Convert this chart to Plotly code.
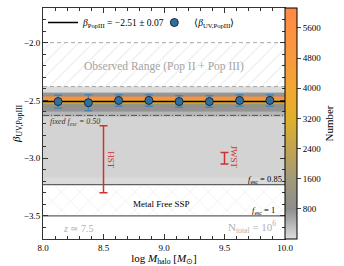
import plotly.graph_objects as go

# ---------------- data ----------------
halo_mass_bins = [8.125, 8.375, 8.625, 8.875, 9.125, 9.375, 9.625, 9.875]
beta_mean = [-2.51, -2.52, -2.50, -2.50, -2.51, -2.51, -2.50, -2.50]
beta_err = [0.055, 0.07, 0.05, 0.05, 0.05, 0.05, 0.05, 0.05]

beta_popIII = -2.51
beta_popIII_err = 0.07

# density of the simulated sample (hexbin counts) as a function of beta
density_beta_edges = [-2.38, -2.43, -2.45, -2.47, -2.49, -2.53, -2.56, -2.60, -2.64, -3.17, -3.23]
density_counts = [25, 700, 1100, 5700, 3500, 1100, 750, 400, 110, 40]
density_x_edges = [8.0, 10.0]

observed_range = [-2.38, -2.0]
metal_free_range = [-3.5, -3.23]
fixed_fesc_050 = -2.63

hst_point = {"x": 8.5, "y": -3.01, "err": 0.29}
jwst_point = {"x": 9.5, "y": -3.00, "err": 0.05}

cbar_ticks = [800, 1600, 2400, 3200, 4000, 4800, 5600]

FONT = "Liberation Serif"

fig = go.Figure()

# hexbin-like density
fig.add_trace(go.Heatmap(
    x=density_x_edges, y=density_beta_edges,
    z=[[c] for c in density_counts],
    zmin=0, zmax=6130,
    colorscale=[[0.0, "#dedede"], [0.13, "#8e8e8e"], [0.26, "#a09a7a"],
                [0.39, "#c2a450"], [0.52, "#dfb12a"], [0.65, "#f1a832"],
                [0.78, "#f89a3e"], [1.0, "#ff8a45"]],
    showscale=True, hoverinfo="skip",
    colorbar=dict(
        x=1.0, xanchor="left", xpad=0, y=0.5, yanchor="middle", len=1.0,
        ypad=0, thickness=12, outlinewidth=1, outlinecolor="black",
        tickvals=cbar_ticks, ticks="outside", ticklen=4, tickcolor="#444",
        tickfont=dict(family=FONT, size=9, color="black"),
        title=dict(text="Number", side="right",
                   font=dict(family=FONT, size=11, color="black")),
    ),
    showlegend=False,
))

# observed range hatched band
fig.add_trace(go.Scatter(
    x=[8, 10, 10, 8, 8],
    y=[observed_range[0], observed_range[0], observed_range[1], observed_range[1], observed_range[0]],
    fill="toself", mode="lines", line=dict(width=0),
    fillcolor="rgba(0,0,0,0)",
    fillpattern=dict(shape="/", fgcolor="#d4d4d4", size=10, solidity=0.1, bgcolor="rgba(255,255,255,0)"),
    showlegend=False, hoverinfo="skip"))

# metal free hatched band
fig.add_trace(go.Scatter(
    x=[8, 10, 10, 8, 8],
    y=[metal_free_range[0], metal_free_range[0], metal_free_range[1], metal_free_range[1], metal_free_range[0]],
    fill="toself", mode="lines", line=dict(width=0),
    fillcolor="rgba(0,0,0,0)",
    fillpattern=dict(shape="x", fgcolor="#d0d0d0", size=13, solidity=0.08, bgcolor="rgba(255,255,255,0)"),
    showlegend=False, hoverinfo="skip"))

# reference lines
for yv in observed_range:
    fig.add_trace(go.Scatter(x=[8, 10], y=[yv, yv], mode="lines",
                             line=dict(color="#a8a8a8", width=1, dash="4px,3px"),
                             showlegend=False, hoverinfo="skip"))
fig.add_trace(go.Scatter(x=[8, 10], y=[fixed_fesc_050] * 2, mode="lines",
                         line=dict(color="#555555", width=1, dash="6px,2px,1px,2px"),
                         showlegend=False, hoverinfo="skip"))
for yv in [metal_free_range[1], metal_free_range[0]]:
    fig.add_trace(go.Scatter(x=[8, 10], y=[yv, yv], mode="lines",
                             line=dict(color="#606060", width=1.2),
                             showlegend=False, hoverinfo="skip"))

# beta PopIII line
fig.add_trace(go.Scatter(
    x=[8, 10], y=[beta_popIII, beta_popIII], mode="lines",
    line=dict(color="black", width=1.5), legend="legend",
    name="<i>β</i><sub>PopIII</sub> = −2.51 ± 0.07"))

# mean points
fig.add_trace(go.Scatter(
    x=halo_mass_bins, y=beta_mean, mode="markers",
    marker=dict(size=8, color="#2f6f9e", line=dict(color="#1a2a3a", width=1)),
    error_y=dict(type="data", array=beta_err, color="#4a85b5", thickness=1.5, width=4),
    legend="legend2",
    name="⟨<i>β</i><sub>UV,PopIII</sub>⟩"))

# HST / JWST error bars
for pt in [hst_point, jwst_point]:
    fig.add_trace(go.Scatter(
        x=[pt["x"]], y=[pt["y"]], mode="markers",
        marker=dict(size=1, color="rgba(0,0,0,0)"),
        error_y=dict(type="data", array=[pt["err"]], color="#cc3333", thickness=1.5, width=4),
        showlegend=False, hoverinfo="skip"))

ann = []
def add_text(x, y, text, size, color="black", xanchor="center", angle=0):
    ann.append(dict(x=x, y=y, xref="x", yref="y", text=text, showarrow=False,
                    xanchor=xanchor, yanchor="middle", textangle=angle,
                    font=dict(family=FONT, size=size, color=color)))

add_text(9.0, -2.21, "Observed Range (Pop II + Pop III)", 11.5, "#a4a4a4")
add_text(8.04, -2.69, "<i>fixed f</i><sub><i>esc</i></sub><i> = 0.50</i>", 8, "#333333", xanchor="left")
add_text(8.98, -3.40, "Metal Free SSP", 9)
add_text(9.99, -3.185, "<i>f</i><sub>esc</sub> = 0.85", 8.5, xanchor="right")
add_text(9.93, -3.455, "<i>f</i><sub>esc</sub> = 1", 8.5, xanchor="right")
add_text(8.15, -3.61, "<i>z</i> ≃ 7.5", 10, "#b0b0b0", xanchor="left")
add_text(9.51, -3.60, "N<sub>total</sub> = 10<sup>6</sup>", 11, "#b0b0b0", xanchor="left")
add_text(8.555, -3.02, "HST", 9, "#cc3333", angle=90)
add_text(9.575, -2.99, "JWST", 9, "#cc3333", angle=90)

axis_common = dict(
    showgrid=False, zeroline=False, ticks="inside", mirror="allticks",
    showline=True, linecolor="#333333", linewidth=1, tickcolor="#333333",
    ticklen=5, tickfont=dict(family=FONT, size=9, color="black"),
    automargin=False,
)

legend_common = dict(orientation="h", y=1.0, yanchor="top", xanchor="left",
                     bgcolor="rgba(0,0,0,0)", font=dict(family=FONT, size=9.5),
                     itemwidth=30)

fig.update_layout(
    width=344, height=266,
    margin=dict(l=43, r=59, t=8, b=27, autoexpand=False),
    paper_bgcolor="white", plot_bgcolor="white",
    font=dict(family=FONT, size=10, color="black"),
    annotations=ann,
    showlegend=True,
    legend=dict(x=0.0, **legend_common),
    legend2=dict(x=0.46, **legend_common),
    xaxis=dict(range=[8, 10], tickvals=[8.0, 8.5, 9.0, 9.5, 10.0], tickformat=".1f",
               minor=dict(dtick=0.1, ticklen=3, ticks="inside", tickcolor="#333333"),
               title=dict(text="log <i>M</i><sub>halo</sub> [<i>M</i><sub>⊙</sub>]",
                          font=dict(family=FONT, size=11), standoff=2),
               **axis_common),
    yaxis=dict(range=[-3.7, -1.7], tickvals=[-3.5, -3.0, -2.5, -2.0], tickformat=".1f",
               minor=dict(dtick=0.1, ticklen=3, ticks="inside", tickcolor="#333333"),
               title=dict(text="<i>β</i><sub>UV,PopIII</sub>",
                          font=dict(family=FONT, size=11), standoff=0),
               **axis_common),
)

fig.write_html("out.html", config={"displayModeBar": False},
               post_script="document.body.style.margin='0px';")
